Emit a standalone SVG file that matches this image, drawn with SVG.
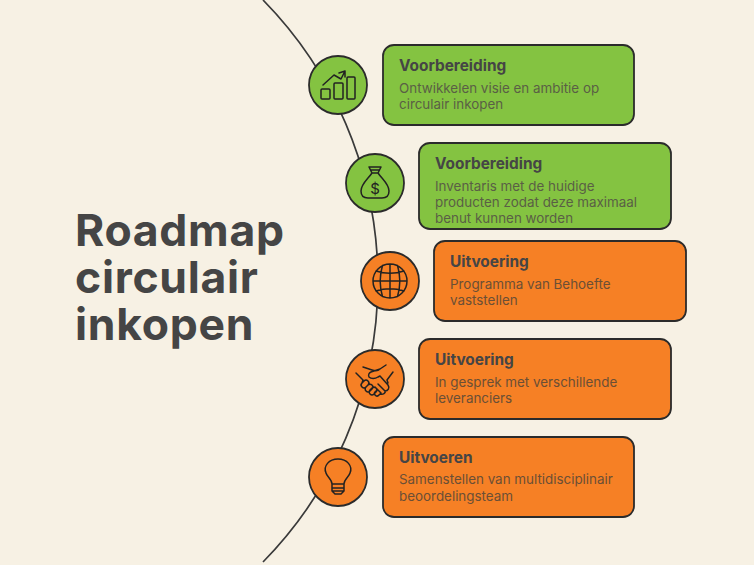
<svg xmlns="http://www.w3.org/2000/svg" width="754" height="565" viewBox="0 0 754 565">
<style>
text{font-family:Inter,"Liberation Sans",sans-serif;fill:#454545}
.t{font-size:44.500px;font-weight:700;letter-spacing:.7px}
.h{font-size:15.400px;font-weight:700}
.b{font-size:13.400px;fill:#5a5f45}
.o .b{fill:#6b4f35}
.g rect,.g circle{fill:#84c341}
.o rect,.o circle{fill:#f68025}
rect,circle{stroke:#2b2b2b;stroke-width:1.8}
.i{fill:none;stroke:#222;stroke-width:1.5;stroke-linecap:round;stroke-linejoin:round}
</style>
<rect width="754" height="565" style="fill:#f7f1e4;stroke:none"/>
<g id="connectors"><path d="M263 0A401 401 0 0 1 263 562" fill="none" stroke="#3a3a3a" stroke-width="1.700"/></g>
<g id="title"><text class="t"><tspan x="75" y="246">Roadmap</tspan><tspan x="75" y="293">circulair</tspan><tspan x="75" y="340">inkopen</tspan></text></g>
<g id="node1" class="g"><circle cx="338" cy="85" r="29"/>
<path class="i" d="M322 89h7a1 1 0 0 1 1 1v8a1 1 0 0 1-1 1h-7a1 1 0 0 1-1-1v-8a1 1 0 0 1 1-1zM335 83h7a1 1 0 0 1 1 1v14a1 1 0 0 1-1 1h-7a1 1 0 0 1-1-1v-14a1 1 0 0 1 1-1zM348 77h6a1 1 0 0 1 1 1v20a1 1 0 0 1-1 1h-6a1 1 0 0 1-1-1v-20a1 1 0 0 1 1-1zM323 85l11-10 7 4 4-8M339 73l6-2 0 6"/>
<rect x="383" y="45" width="251" height="80" rx="11"/><text class="h" x="399" y="71">Voorbereiding</text><text class="b" x="399" y="93">Ontwikkelen visie en ambitie op</text><text class="b" x="399" y="109">circulair inkopen</text></g>
<g id="node2" class="g"><circle cx="375" cy="183" r="29"/>
<path class="i" d="M369 167h12l-3 6h-6zM372 173c-4 6-11 11-11 18 0 5 3 7 7 7h14c4 0 7-2 7-7 0-7-7-12-11-18M371 170h8"/>
<text x="375" y="194" text-anchor="middle" style="font-size:15px;fill:#222">$</text>
<rect x="419" y="143" width="252" height="86" rx="11"/><text class="h" x="435" y="169">Voorbereiding</text><text class="b" x="435" y="191">Inventaris met de huidige</text><text class="b" x="435" y="207">producten zodat deze maximaal</text><text class="b" x="435" y="223">benut kunnen worden</text></g>
<g id="node3" class="o"><circle cx="390" cy="281" r="29"/>
<path class="i" d="M407 281a17 17 0 1 1-34 0a17 17 0 1 1 34 0zM373 281h34M390 264v34M397.500 265.500c3 10 3 21 0 31M382.500 265.500c-3 10-3 21 0 31M376 271c9 3 19 3 28 0M376 291c9-3 19-3 28 0"/>
<rect x="434" y="241" width="252" height="80" rx="11"/><text class="h" x="450" y="267">Uitvoering</text><text class="b" x="450" y="289">Programma van Behoefte</text><text class="b" x="450" y="305">vaststellen</text></g>
<g id="node4" class="o"><circle cx="375" cy="379" r="29"/>
<path class="i" d="M356 373l7 7M393 372l-6 8M363 367l9 3c3 1 6 1 8-1l6-4M380 369l-9 3c-2 1-3 3-2 5 2 2 6 2 9 0l2-1 8 9M363 380l-1 3M387 380l1 3M364 381l-2 2a2.500 2.500 0 0 0 4 4l2-2a2.500 2.500 0 0 0-4-4zM368 385l-2 2a2.500 2.500 0 0 0 4 4l2-2a2.500 2.500 0 0 0-4-4zM372 388l-2 2a2.500 2.500 0 0 0 4 4l2-2a2.500 2.500 0 0 0-4-4zM376 391l-1 1a2.500 2.500 0 0 0 4 3l1-1M380 394c3 1 6-1 5-3 3 0 5-3 3-6M378 384l7 7M375 387l6 6"/>
<rect x="419" y="339" width="252" height="80" rx="11"/><text class="h" x="435" y="365">Uitvoering</text><text class="b" x="435" y="387">In gesprek met verschillende</text><text class="b" x="435" y="403">leveranciers</text></g>
<g id="node5" class="o"><circle cx="338" cy="477" r="29"/>
<path class="i" d="M332 484c0-5-5-7-6-11-3-7 3-14 12-14s15 7 12 14c-1 4-6 6-6 11zM332 488h12M332 484v7l3 3h6l3-3v-7M333 491h10"/>
<rect x="383" y="437" width="251" height="80" rx="11"/><text class="h" x="399" y="463">Uitvoeren</text><text class="b" x="399" y="484">Samenstellen van multidisciplinair</text><text class="b" x="399" y="501">beoordelingsteam</text></g>
</svg>
